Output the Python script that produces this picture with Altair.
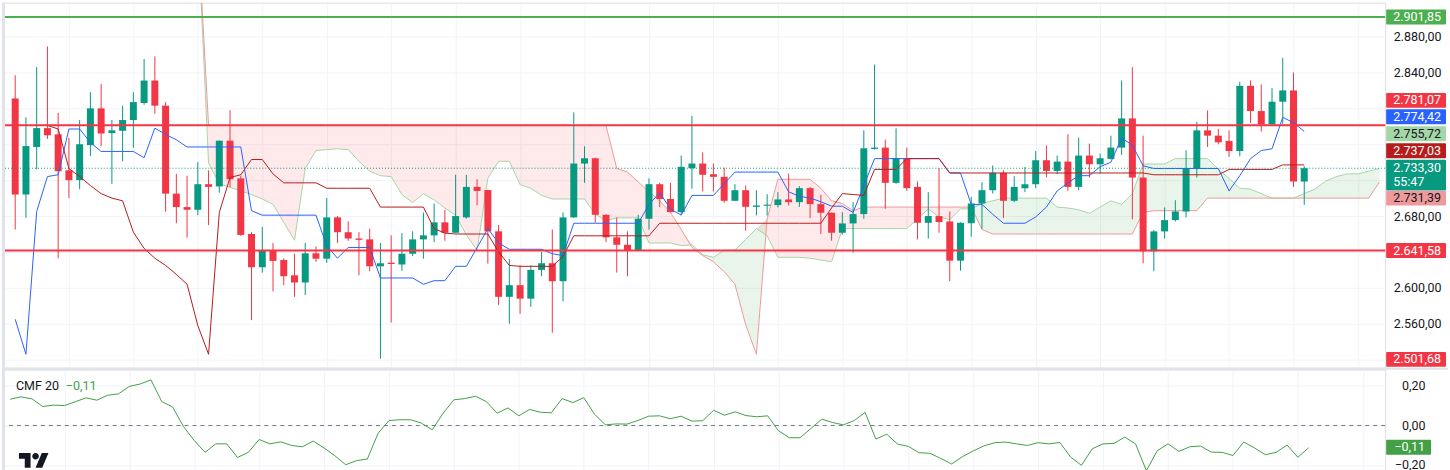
import altair as alt
import numpy as np
import pandas as pd

# ---------------------------------------------------------------- data
OPEN = [2811, 2704, 2757, 2778, 2771, 2731, 2720, 2759, 2800, 2772.5,
        2775, 2787, 2806, 2831, 2803, 2705, 2690, 2687, 2715.5, 2713,
        2764, 2722, 2660, 2623, 2642, 2631, 2614, 2606, 2638.5, 2632.5,
        2678.5, 2662, 2655, 2654, 2624, 2628, 2626, 2638, 2654, 2658.5,
        2673, 2661.4, 2678.5, 2712.5, 2709, 2663, 2590, 2603, 2588, 2620,
        2627.4, 2607.4, 2678.5, 2738.5, 2744.4, 2681.4, 2656.3, 2648, 2641.4, 2677,
        2715.5, 2699, 2684.4, 2733.3, 2738.5, 2726.6, 2723.7, 2697, 2708.8, 2690.3,
        2691.5, 2692.2, 2698.5, 2695.5, 2711.1, 2693.3, 2683.7, 2661.4, 2671.8, 2682.2,
        2754.8, 2756.3, 2717, 2744.4, 2712.5, 2672.5, 2680, 2674, 2630.3, 2672,
        2694, 2708.8, 2728.1, 2697, 2711.1, 2715.5, 2742.2, 2730.3, 2740.7, 2712.5,
        2747.4, 2737.7, 2743.7, 2756.3, 2788.8, 2722.9, 2640.7, 2662.9, 2675.5, 2685.1,
        2733.3, 2775.5, 2769.6, 2763.7, 2752.5, 2825.1, 2797, 2782.2, 2807.4, 2820,
        2718.5]
HIGH = [2837, 2790, 2846, 2869, 2795, 2767, 2787, 2818, 2827, 2787,
        2803, 2818, 2855, 2858, 2807, 2727, 2725, 2740, 2731, 2764,
        2798, 2725, 2662, 2668, 2650, 2633, 2638, 2650, 2646, 2700,
        2680, 2674, 2662, 2666, 2650, 2658.5, 2661, 2663, 2684, 2694,
        2687, 2726, 2726, 2721, 2709.5, 2670, 2632, 2625, 2625, 2640,
        2665, 2684, 2795.5, 2757.7, 2745, 2682, 2678.5, 2663, 2681.4, 2722,
        2717, 2717, 2747.4, 2791.8, 2751, 2738.5, 2734, 2715.5, 2714, 2708.8,
        2704.4, 2706.6, 2727.4, 2713.3, 2712.5, 2703.7, 2684, 2684.4, 2695.5, 2775.5,
        2848.8, 2765.1, 2777.7, 2756.3, 2718.5, 2706.6, 2733.3, 2685.1, 2673, 2701.4,
        2717.7, 2736.3, 2731.1, 2724.4, 2734.8, 2752.5, 2758.5, 2747.4, 2771.1, 2767.4,
        2760.7, 2749.6, 2769.6, 2831.1, 2845.9, 2769.6, 2664.4, 2689.6, 2697.7, 2753.3,
        2785.1, 2797.7, 2777, 2775.5, 2829.6, 2831.1, 2826.6, 2822.9, 2856.3, 2840,
        2735.5]
LOW = [2665, 2678, 2732, 2766, 2633, 2700, 2710, 2747, 2758, 2716,
       2741, 2756, 2804, 2794, 2685, 2672, 2656, 2681, 2670, 2706,
       2712, 2658, 2564, 2617, 2596, 2603, 2590, 2592, 2629, 2628,
       2650, 2652.5, 2614, 2618.5, 2521, 2561.4, 2619, 2635.5, 2632.5, 2651,
       2652.5, 2661, 2677, 2692, 2627, 2581, 2560, 2571, 2579, 2613,
       2550, 2585, 2678, 2717, 2672.5, 2651, 2617, 2613, 2641, 2665,
       2690, 2684, 2681.4, 2710.4, 2707.4, 2707.4, 2694.8, 2697, 2663.7, 2680.7,
       2680.7, 2689.6, 2691.8, 2690.3, 2677.7, 2660, 2652.5, 2659.2, 2639.2, 2677,
       2754, 2688.1, 2716, 2708.1, 2654, 2654.8, 2661.4, 2607.4, 2619.2, 2657,
       2665.9, 2705.1, 2677.7, 2695.5, 2706.6, 2711.1, 2722.9, 2726.6, 2708.1, 2708.8,
       2722.9, 2727.4, 2743, 2748.1, 2676.3, 2627.4, 2618.5, 2654.8, 2674, 2678.5,
       2722.9, 2757, 2760, 2745.9, 2746.6, 2783.7, 2774, 2782, 2782.2, 2712.5,
       2692.5]
CLOSE = [2704, 2758, 2778, 2770, 2730, 2720, 2760, 2800, 2772, 2775.5,
         2787, 2807, 2831, 2803, 2705, 2690, 2687, 2715.5, 2712.5, 2764,
         2721, 2659, 2623, 2642, 2630, 2613, 2606, 2638.5, 2632.5, 2678.5,
         2662, 2655, 2653.5, 2624, 2627.4, 2626.6, 2638, 2654, 2658.5, 2673,
         2661.4, 2680, 2712.5, 2708, 2663, 2590, 2603, 2588, 2620, 2627.4,
         2607.4, 2678.5, 2738.5, 2744.4, 2681.4, 2656.3, 2648, 2641.4, 2677, 2715.5,
         2699, 2684.4, 2734.8, 2738.5, 2726, 2723.7, 2697, 2708.8, 2690.3, 2691.8,
         2692.2, 2698.5, 2695.5, 2711.1, 2693.3, 2683.7, 2661.4, 2671.8, 2682.2, 2755.5,
         2756.3, 2717, 2744.4, 2711.1, 2672.5, 2680, 2673.3, 2630.3, 2672.5, 2694,
         2708.8, 2728.1, 2697, 2712.5, 2715.5, 2742.2, 2730.3, 2740.7, 2712.5, 2747.4,
         2737.7, 2744.4, 2756.3, 2788.8, 2722.9, 2640.7, 2662.9, 2675.5, 2685.1, 2733.3,
         2775.5, 2769.6, 2762.2, 2752.5, 2825.1, 2797, 2782.2, 2807.4, 2820, 2718.5,
         2733.3]

# Ichimoku: conversion line (tenkan) and base line (kijun), one value per candle
TENKAN = [2565, 2526, 2685, 2724, 2726, 2777, 2777, 2762, 2752, 2752,
          2752, 2752, 2745, 2778, 2771, 2765, 2757, 2757, 2757, 2757,
          2757, 2757, 2686, 2681, 2681, 2681, 2681, 2681, 2681, 2647,
          2633, 2645, 2645, 2645, 2611, 2611, 2611, 2611, 2604, 2608,
          2608, 2624, 2624, 2645, 2666, 2650, 2643, 2643, 2643, 2643,
          2638, 2636, 2672, 2672, 2672, 2672, 2672, 2672, 2672, 2693,
          2706, 2688, 2681, 2703, 2703, 2703, 2716, 2729, 2729, 2729,
          2729, 2729, 2707, 2702, 2700, 2696, 2691, 2691, 2684, 2714,
          2744, 2744, 2744, 2744, 2744, 2744, 2744, 2728, 2728, 2693,
          2693, 2682, 2672, 2672, 2672, 2679, 2690, 2708, 2717, 2725,
          2725, 2735, 2740, 2767, 2759, 2736, 2733, 2733, 2733, 2733,
          2733, 2733, 2733, 2708, 2725, 2744, 2753, 2755, 2790, 2784,
          2774.4]
KIJUN = [2781, 2781, 2781, 2781, 2777, 2733, 2724, 2714, 2705, 2700,
         2697, 2662, 2644, 2633, 2625, 2615, 2604, 2558, 2526, 2684,
         2723, 2726, 2743, 2743, 2727, 2717, 2717, 2717, 2717, 2711,
         2711, 2711, 2711, 2711, 2690, 2690, 2690, 2690, 2690, 2666,
         2661, 2660, 2660, 2660, 2660, 2640, 2625, 2624, 2624, 2624,
         2624, 2635, 2658, 2658, 2658, 2658, 2658, 2658, 2658, 2658,
         2672, 2672, 2672, 2672, 2672, 2672, 2672, 2672, 2672, 2672,
         2672, 2672, 2672, 2672, 2672, 2672, 2689, 2705, 2704, 2703,
         2732, 2732, 2732, 2744, 2744, 2744, 2744, 2728, 2728, 2728,
         2728, 2728, 2728, 2728, 2728, 2728, 2728, 2728, 2728, 2728,
         2728, 2728, 2728, 2728, 2728, 2728, 2726, 2726, 2726, 2726,
         2726, 2726, 2726, 2732, 2732, 2732, 2732, 2732, 2737, 2737,
         2737]

# leading spans, shown from candle 17 to 127 (projected ahead of price)
SPAN_FIRST = 17
SPAN_A = [3000, 2739, 2716, 2712, 2708, 2704, 2699, 2693, 2673, 2653,
          2733, 2753, 2754, 2755, 2754, 2741, 2730, 2725, 2724, 2704,
          2695, 2705, 2698, 2689, 2681, 2659, 2642, 2722, 2741, 2741,
          2715, 2711, 2703, 2699, 2699, 2699, 2699, 2682, 2675, 2678,
          2678, 2678, 2650, 2650, 2650, 2647, 2648, 2637, 2634, 2642,
          2642, 2654, 2666, 2658, 2634, 2634, 2634, 2633, 2631, 2629,
          2666, 2666, 2666, 2666, 2666, 2666, 2666, 2677, 2688, 2679,
          2676, 2688, 2688, 2694, 2697, 2700, 2700, 2700, 2700, 2700,
          2690, 2689, 2687, 2683, 2690, 2697, 2693, 2705, 2738, 2738,
          2738, 2744, 2744, 2744, 2744, 2732, 2722, 2711, 2710, 2705,
          2700, 2700, 2700, 2705, 2710, 2719, 2724, 2727, 2727, 2730,
          2733]
SPAN_B = [3000, 2781, 2781, 2781, 2781, 2781, 2781, 2781, 2781, 2781,
          2781, 2781, 2781, 2781, 2781, 2781, 2781, 2781, 2781, 2781,
          2781, 2781, 2781, 2781, 2781, 2781, 2781, 2781, 2781, 2781,
          2781, 2781, 2781, 2781, 2781, 2781, 2781, 2781, 2781, 2733,
          2729, 2718, 2707, 2697, 2684, 2665, 2645, 2636, 2629, 2618,
          2604, 2559, 2526, 2677, 2721, 2721, 2721, 2721, 2711, 2697,
          2694, 2686, 2690, 2690, 2690, 2690, 2690, 2690, 2690, 2690,
          2690, 2690, 2690, 2665, 2660, 2660, 2660, 2660, 2660, 2660,
          2660, 2660, 2660, 2660, 2660, 2660, 2660, 2660, 2684, 2686,
          2686, 2686, 2686, 2686, 2700, 2700, 2700, 2700, 2700, 2700,
          2700, 2700, 2700, 2700, 2700, 2700, 2700, 2700, 2700, 2700,
          2718]

CMF = [0.133, 0.145, 0.135, 0.096, 0.103, 0.101, 0.120, 0.140, 0.128, 0.153,
       0.160, 0.198, 0.210, 0.231, 0.121, 0.094, -0.005, -0.076, -0.136, -0.093,
       -0.093, -0.162, -0.136, -0.071, -0.093, -0.083, -0.101, -0.108, -0.079, -0.114,
       -0.153, -0.199, -0.178, -0.170, -0.039, 0.025, 0.029, 0.029, 0.012, -0.022,
       0.062, 0.130, 0.136, 0.148, 0.121, 0.062, 0.089, 0.049, 0.081, 0.067,
       0.064, 0.136, 0.116, 0.141, 0.057, 0.003, 0.008, 0.007, 0.025, 0.047,
       0.049, 0.034, 0.047, 0.022, 0.024, 0.077, 0.052, 0.069, 0.050, 0.044,
       0.049, -0.027, -0.062, -0.062, -0.015, 0.032, 0.015, 0.003, 0.025, 0.066,
       -0.069, -0.044, -0.094, -0.106, -0.138, -0.141, -0.167, -0.195, -0.158, -0.129,
       -0.103, -0.087, -0.084, -0.093, -0.101, -0.087, -0.093, -0.086, -0.160, -0.202,
       -0.118, -0.093, -0.091, -0.059, -0.093, -0.229, -0.128, -0.093, -0.131, -0.108,
       -0.104, -0.135, -0.136, -0.152, -0.084, -0.114, -0.148, -0.136, -0.099, -0.161,
       -0.113]

H_LEVELS = [2901.85, 2781.07, 2641.58]
H_COLORS = ["#4caf50", "#f23645", "#f23645"]
LAST_PRICE = 2733.30
COUNTDOWN = "55:47"

# price-scale badges: value, fill, text colour
RL_VALUES = [2901.85, 2781.07, 2774.42, 2755.72, 2737.03, 2733.30, 2731.39, 2641.58, 2501.68]
RL_FILL = ["#4caf50", "#f23645", "#2962ff", "#a5d6a7", "#b71c1c", "#089981", "#ef9a9a", "#f23645", "#f23645"]
RL_TCOL = ["white", "white", "white", "#131722", "white", "white", "#131722", "white", "white"]
# stacked badge slots on the price scale (after collision avoidance)
RL_BOX = [2901.85, 2808.9, 2790.6, 2771.7, 2752.8, 2725.6, 2700.0, 2641.58, 2520.3]
RL_HALF = [8.3, 8.3, 8.3, 8.3, 8.3, 17.2, 8.3, 8.3, 8.3]
RL_TEXT = [2901.85, 2808.9, 2790.6, 2771.7, 2752.8, 2733.3, 2700.0, 2641.58, 2520.3]

CMF_LAST = -0.11

PRICE_GRID = [2520, 2560, 2600, 2640, 2680, 2720, 2760, 2800, 2840, 2880]
PRICE_SHOWN = [2560, 2600, 2680, 2840, 2880]
CMF_TICKS = [-0.2, 0.0, 0.2]
X_GRID = [5, 11, 17, 23, 29, 35, 41, 47, 53, 59, 65, 71, 77, 83, 89, 95, 101, 107, 113, 119, 125]

X_DOMAIN = [-0.765, 127.07]
Y_DOMAIN = [2511.1, 2917.8]
CMF_DOMAIN = [-0.2323, 0.2828]

W, H1, H2 = 1387, 366, 102
UP, DOWN = "#089981", "#f23645"
GRID = "#f0f3fa"
TXT = "#131722"
FONT = "Roboto"
FS = 12.5


def tv_fmt(v):
    s = f"{abs(v):,.2f}".replace(",", " ").replace(".", ",").replace(" ", ".")
    return ("\u2212" if v < 0 else "") + s


# ---------------------------------------------------------------- frames
idx = list(range(len(OPEN)))
candles = pd.DataFrame({"i": idx, "o": OPEN, "h": HIGH, "l": LOW, "c": CLOSE})
candles["bot"] = np.minimum(candles.o, candles.c)
candles["top"] = np.maximum(np.maximum(candles.o, candles.c), candles.bot + 1.2)
candles["col"] = np.where(candles.c >= candles.o, UP, DOWN)

ind = pd.DataFrame({"i": idx, "tenkan": TENKAN, "kijun": KIJUN})

spans = pd.DataFrame({"i": list(range(SPAN_FIRST, SPAN_FIRST + len(SPAN_A))),
                      "A": SPAN_A, "B": SPAN_B})
spans["mx"] = np.maximum(spans.A, spans.B)

hl = pd.DataFrame({"v": H_LEVELS, "c": H_COLORS})
lastp = pd.DataFrame({"v": [LAST_PRICE]})

badges = pd.DataFrame({"val": RL_VALUES, "fill": RL_FILL, "tc": RL_TCOL,
                       "box": RL_BOX, "half": RL_HALF, "tpos": RL_TEXT})
badges["top"] = badges.box + badges.half
badges["bot"] = badges.box - badges.half
badges["text"] = [tv_fmt(v) for v in RL_VALUES]
badges.loc[badges.val == LAST_PRICE, "text"] = tv_fmt(LAST_PRICE) + "\n" + COUNTDOWN

cmf_df = pd.DataFrame({"i": idx, "cmf": CMF})
one = pd.DataFrame({"k": [0]})

# ---------------------------------------------------------------- encodings
xs = alt.Scale(domain=X_DOMAIN, nice=False, zero=False)
ys = alt.Scale(domain=Y_DOMAIN, nice=False, zero=False)
cs = alt.Scale(domain=CMF_DOMAIN, nice=False, zero=False)

x_axis = alt.Axis(values=X_GRID, labels=False, ticks=False, domain=False,
                  grid=True, gridColor=GRID, title=None)
shown = ",".join(str(v) for v in PRICE_SHOWN)
y_axis = alt.Axis(orient="right", values=PRICE_GRID, title=None, domain=False, ticks=False,
                  grid=True, gridColor=GRID, labelFont=FONT, labelFontSize=FS,
                  labelColor=TXT, labelPadding=8, labelAlign="left", labelOverlap=False,
                  labelExpr=f"indexof([{shown}], datum.value) < 0 ? '' : "
                            "replace(replace(format(datum.value, ',.2f'), '.', ','), ',', '.')")
c_axis = alt.Axis(orient="right", values=CMF_TICKS, title=None, domain=False, ticks=False,
                  grid=True, gridColor=GRID, labelFont=FONT, labelFontSize=FS,
                  labelColor=TXT, labelPadding=40, labelAlign="right", labelOverlap=False,
                  labelExpr="replace(format(datum.value, '.2f'), '.', ',')")


def X(f):
    return alt.X(f"{f}:Q", scale=xs, axis=x_axis)


def Y(f):
    return alt.Y(f"{f}:Q", scale=ys, axis=y_axis)


def YC(f):
    return alt.Y(f"{f}:Q", scale=cs, axis=c_axis)


# ---------------------------------------------------------------- main panel
cloud_red = alt.Chart(spans).mark_area(color="#f23645", opacity=0.11, clip=True).encode(
    x=X("i"), y=Y("A"), y2=alt.Y2("mx"))
cloud_green = alt.Chart(spans).mark_area(color="#4caf50", opacity=0.12, clip=True).encode(
    x=X("i"), y=Y("B"), y2=alt.Y2("mx"))
span_a = alt.Chart(spans).mark_line(color="#a5d6a7", strokeWidth=1, clip=True).encode(
    x=X("i"), y=Y("A"))
span_b = alt.Chart(spans).mark_line(color="#ef9a9a", strokeWidth=1, clip=True).encode(
    x=X("i"), y=Y("B"))

wicks = alt.Chart(candles).mark_rule(strokeWidth=1).encode(
    x=X("i"), y=Y("l"), y2=alt.Y2("h"), color=alt.Color("col:N", scale=None))
bodies = alt.Chart(candles).mark_bar(size=7).encode(
    x=X("i"), y=Y("bot"), y2=alt.Y2("top"), color=alt.Color("col:N", scale=None))

tenkan = alt.Chart(ind).mark_line(color="#2962ff", strokeWidth=1, clip=True).encode(
    x=X("i"), y=Y("tenkan"))
kijun = alt.Chart(ind).mark_line(color="#b71c1c", strokeWidth=1, clip=True).encode(
    x=X("i"), y=Y("kijun"))

hlines = alt.Chart(hl).mark_rule(strokeWidth=2).encode(
    y=Y("v"), color=alt.Color("c:N", scale=None))
price_line = alt.Chart(lastp).mark_rule(strokeWidth=1, strokeDash=[1, 2], color=UP).encode(
    y=Y("v"))

badge_box = alt.Chart(badges).mark_rect(cornerRadius=1).encode(
    x=alt.value(1388), x2=alt.value(1448), y=Y("top"), y2=alt.Y2("bot"),
    color=alt.Color("fill:N", scale=None))
badge_txt = alt.Chart(badges).mark_text(
    align="left", baseline="middle", font=FONT, fontSize=FS, lineBreak="\n", lineHeight=14
).encode(x=alt.value(1395), y=Y("tpos"), text="text:N", color=alt.Color("tc:N", scale=None))

separator = alt.Chart(one).mark_rule(color="#e0e3eb", strokeWidth=2).encode(
    x=alt.value(0), x2=alt.value(1450), y=alt.value(H1 + 1))
left_edge = alt.Chart(one).mark_rule(color="#e0e3eb", strokeWidth=3).encode(
    x=alt.value(1.5), y=alt.value(0), y2=alt.value(H1))

main = alt.layer(
    cloud_red, cloud_green, span_a, span_b, wicks, bodies, tenkan, kijun,
    price_line, hlines, badge_box, badge_txt, separator, left_edge
).properties(width=W, height=H1)

# ---------------------------------------------------------------- CMF panel
cmf_line = alt.Chart(cmf_df).mark_line(color="#43a047", strokeWidth=1).encode(
    x=X("i"), y=YC("cmf"))
zero_line = alt.Chart(pd.DataFrame({"v": [0.0]})).mark_rule(
    color="#787b86", strokeDash=[4, 4], strokeWidth=1).encode(y=YC("v"))
cmf_box = alt.Chart(pd.DataFrame({"v": [CMF_LAST], "t": [CMF_LAST - 0.038], "b": [CMF_LAST + 0.038]})
                    ).mark_rect(color="#43a047", cornerRadius=1).encode(
    x=alt.value(1388), x2=alt.value(1433), y=YC("t"), y2=alt.Y2("b"))
cmf_box_txt = alt.Chart(pd.DataFrame({"v": [CMF_LAST], "s": [tv_fmt(CMF_LAST)]})).mark_text(
    align="right", baseline="middle", font=FONT, fontSize=FS, color="white").encode(
    x=alt.value(1427), y=YC("v"), text="s:N")
cmf_title = alt.Chart(pd.DataFrame({"s": ["CMF 20"]})).mark_text(
    align="left", baseline="middle", font=FONT, fontSize=12.5, color=TXT).encode(
    x=alt.value(14), y=alt.value(16), text="s:N")
cmf_value = alt.Chart(pd.DataFrame({"s": [tv_fmt(CMF_LAST)]})).mark_text(
    align="left", baseline="middle", font=FONT, fontSize=12.5, color="#43a047").encode(
    x=alt.value(64), y=alt.value(16), text="s:N")
TV_LOGO = ("M-0.222,0.5L-0.611,0.5L-0.611,-0.111L-1,-0.111L-1,-0.5L-0.222,-0.5Z"
           "M0.556,0.5L0.111,0.5L0.528,-0.5L0.972,-0.5Z"
           "M-0.111,-0.278A0.222,0.222,0,1,0,0.333,-0.278A0.222,0.222,0,1,0,-0.111,-0.278Z")
logo = alt.Chart(one).mark_point(shape=TV_LOGO, filled=True, size=900, color=TXT,
                                 opacity=1, strokeWidth=0).encode(
    x=alt.value(32), y=alt.value(91))
left_edge2 = alt.Chart(one).mark_rule(color="#e0e3eb", strokeWidth=3).encode(
    x=alt.value(1.5), y=alt.value(0), y2=alt.value(H2))

cmf_panel = alt.layer(
    zero_line, cmf_line, cmf_box, cmf_box_txt, cmf_title, cmf_value, logo, left_edge2
).properties(width=W, height=H2)

chart = alt.vconcat(main, cmf_panel, spacing=2, bounds="flush").properties(
    padding=0, background="white"
).configure_view(stroke=None).configure(font=FONT)

chart.save("out.html", embed_options={"renderer": "svg", "actions": False})
